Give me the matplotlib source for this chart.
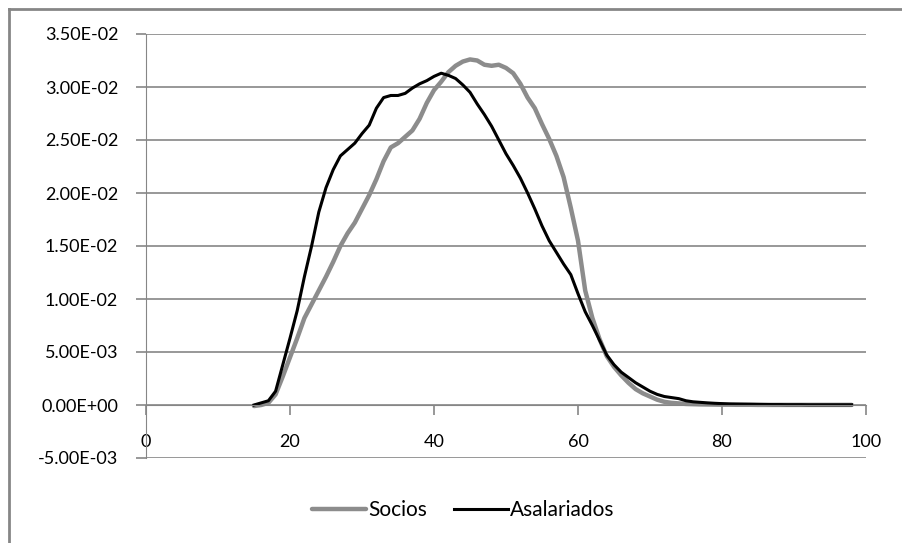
import matplotlib.pyplot as plt
from matplotlib.lines import Line2D

# edad (15..98)
edades = list(range(15, 99))

socios = [
    -0.0001, 0.0000, 0.0002, 0.0010, 0.0027, 0.0045, 0.0063, 0.0082, 0.0095, 0.0108,
    0.0121, 0.0135, 0.0150, 0.0162, 0.0172, 0.0185, 0.0198, 0.0213, 0.0230, 0.0243,
    0.0247, 0.0253, 0.0259, 0.0270, 0.0285, 0.0297, 0.0305, 0.0314, 0.0320, 0.0324,
    0.0326, 0.0325, 0.0321, 0.0320, 0.0321, 0.0318, 0.0313, 0.0303, 0.0290, 0.0280,
    0.0265, 0.0251, 0.0235, 0.0215, 0.0186, 0.0155, 0.0108, 0.0082, 0.0062, 0.0046,
    0.0036, 0.0028, 0.0021, 0.0015, 0.0011, 0.0008, 0.0005, 0.0003, 0.0002, 0.00015,
    0.00010, 0.00008, 0.00006, 0.00005, 0.00004, 0.00003, 0.00003, 0.00002, 0.00002, 0.00002,
    0.00001, 0.00001, 0.00001, 0.00001, 0.00001, 0.00001, 0.00001, 0.00001, 0.00001, 0.00001,
    0.00001, 0.00001, 0.00001, 0.00001,
]

asalariados = [
    0.0000, 0.0002, 0.0004, 0.0013, 0.0038, 0.0063, 0.0089, 0.0121, 0.0150, 0.0182,
    0.0205, 0.0222, 0.0235, 0.0241, 0.0247, 0.0256, 0.0264, 0.0280, 0.0290, 0.0292,
    0.0292, 0.0294, 0.0299, 0.0303, 0.0306, 0.0310, 0.0313, 0.0311, 0.0308, 0.0302,
    0.0295, 0.0284, 0.0274, 0.0263, 0.0250, 0.0237, 0.0226, 0.0214, 0.0200, 0.0185,
    0.0169, 0.0155, 0.0144, 0.0133, 0.0123, 0.0105, 0.0088, 0.0075, 0.0061, 0.0047,
    0.0038, 0.0031, 0.0026, 0.0021, 0.0017, 0.0013, 0.0010, 0.0008, 0.0007, 0.0006,
    0.0004, 0.0003, 0.00025, 0.0002, 0.00016, 0.00013, 0.00010, 0.00009, 0.00008, 0.00007,
    0.00006, 0.00005, 0.00004, 0.00004, 0.00003, 0.00003, 0.00003, 0.00002, 0.00002, 0.00002,
    0.00002, 0.00002, 0.00002, 0.00002,
]

x_ticks = [0, 20, 40, 60, 80, 100]
y_ticks = [-0.005, 0.0, 0.005, 0.010, 0.015, 0.020, 0.025, 0.030, 0.035]

plt.rcParams['font.family'] = ['Lato', 'DejaVu Sans']
grid_col = '#868686'

fig = plt.figure(figsize=(9.02, 5.43), dpi=100)
ax = fig.add_axes([146/902, 1 - 458/543, (866 - 146)/902, (458 - 34)/543])

ax.plot(edades, socios, color='#8c8c8c', lw=3.2, label='Socios', solid_capstyle='round')
ax.plot(edades, asalariados, color='black', lw=2.2, label='Asalariados')

ax.set_xlim(0, 100)
ax.set_ylim(-0.005, 0.035)
ax.set_xticks(x_ticks)
ax.set_yticks(y_ticks)
ax.set_yticklabels([f"{v:.2E}" for v in y_ticks])
ax.yaxis.grid(True, color=grid_col, lw=1.2)
ax.set_axisbelow(True)

for s in ['top', 'right']:
    ax.spines[s].set_visible(False)
ax.spines['bottom'].set_position(('data', 0))
ax.spines['bottom'].set_color(grid_col)
ax.spines['left'].set_color(grid_col)
ax.tick_params(axis='both', colors=grid_col, labelcolor='black', labelsize=13, length=7, width=1.2)
ax.tick_params(axis='y', pad=13)
ax.tick_params(axis='x', pad=14)

fig.legend(loc='center', bbox_to_anchor=(463/902, 1 - 510/543), ncol=2, frameon=False,
           fontsize=15, handlelength=2.6, columnspacing=1.3, handletextpad=0.1)

# borde del area del grafico
fig.add_artist(Line2D([9/902, 9/902], [0, 1 - 9/543], color=grid_col, lw=2))
fig.add_artist(Line2D([9/902, 1], [1 - 9/543, 1 - 9/543], color=grid_col, lw=2))

fig.savefig('out.png', dpi=100)
